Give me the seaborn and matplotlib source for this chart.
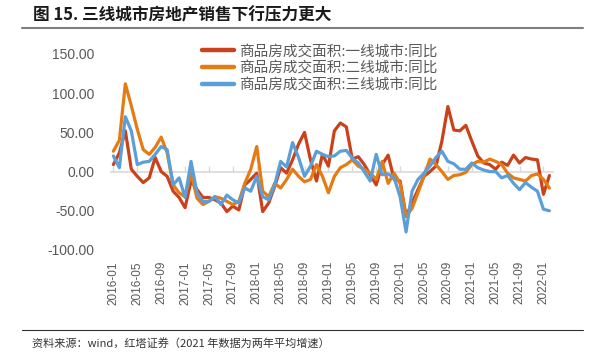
import numpy as np
import pandas as pd
import matplotlib
matplotlib.use("Agg")
import matplotlib.pyplot as plt
from matplotlib.lines import Line2D
import seaborn as sns

# monthly series, 2016-01 .. 2022-02 (year-on-year, %)
months = list(pd.date_range("2016-01", periods=74, freq="MS").strftime("%Y-%m"))

tier1 = [9, 24, 52, 3, -6, -14, -8, 18, 0, -6, -25, -33, -46, -12, -23, -33,
         -33, -36, -40, -51, -44, -49, -17, -10, -2, -51, -40, -19, 5, -2, 15, 35,
         50, 15, -12, 22, 7, 52, 62, 57, 16, 19, 9, -4, -17, 9, 21, -10,
         -12, -57, -40, -23, -6, 0, 7, 39, 83, 53, 52, 59, 39, 20, 11, 9,
         3, 12, 8, 21, 11, 18, 16, 15, -29, -5]
tier2 = [26, 40, 112, 84, 54, 28, 22, 31, 44, 24, -17, -27, -32, -2, -34, -42,
         -38, -32, -34, -38, -42, -38, -15, 3, 32, -25, -32, -15, -21, -10, 3, -6,
         -13, -10, 9, -6, -27, -6, 5, 9, 15, 7, 3, -2, -10, 13, -15, -2,
         -15, -57, -47, -27, -6, 16, 9, 0, -10, -5, -4, -1, 9, 13, 12, 16,
         13, 9, -2, -8, -10, -12, -5, -3, -10, -21]
tier3 = [20, 5, 70, 52, 9, 12, 13, 22, 32, 28, -17, -8, -33, 13, -27, -38,
         -38, -32, -42, -30, -36, -40, -21, -25, -6, -32, -36, -17, 13, 6, 37, 18,
         -6, 7, 26, 22, 19, 20, 26, 27, 17, 11, 0, -12, 22, -4, -3, -8,
         -32, -77, -25, -10, -2, 7, 18, 26, 13, 10, 3, 3, 11, 5, 2, 0,
         0, -8, -5, -15, -23, -14, -20, -25, -48, -50]

series_names = ["商品房成交面积:一线城市:同比",
                "商品房成交面积:二线城市:同比",
                "商品房成交面积:三线城市:同比"]
colors = ["#C9421C", "#E57B13", "#5B9FD8"]

tick_idx = list(range(0, 73, 4))
tick_labels = [months[i] for i in tick_idx]
y_ticks = [150, 100, 50, 0, -50, -100]

df = pd.concat([
    pd.DataFrame({"idx": range(len(months)), "value": vals, "series": name})
    for name, vals in zip(series_names, [tier1, tier2, tier3])
])

sns.set_theme(style="white")
plt.rcParams["font.family"] = ["Liberation Sans", "Noto Sans CJK SC", "DejaVu Sans"]
cjk = ["Noto Sans CJK SC", "DejaVu Sans"]
grey = "#595959"

fig = plt.figure(figsize=(5.92, 3.53), dpi=100)
ax = fig.add_axes([111 / 592, 1 - 250 / 353, (553 - 111) / 592, (250 - 54) / 353])

sns.lineplot(data=df, x="idx", y="value", hue="series", palette=colors,
             linewidth=2.3, ax=ax, legend=False)

ax.set_xlim(-0.4, 73.6)
ax.set_ylim(-100, 150)
for s in ax.spines.values():
    s.set_visible(False)
ax.set_xlabel("")
ax.set_ylabel("")
ax.set_yticks(y_ticks, [f"{v:.2f}" for v in y_ticks])
ax.tick_params(axis="y", length=0, pad=12, labelsize=10, labelcolor=grey)
ax.set_xticks(tick_idx, tick_labels, rotation=90)
ax.tick_params(axis="x", length=0, pad=8, labelsize=8.5, labelcolor=grey)

# zero line with inward ticks
sec = ax.secondary_xaxis(0.4)
sec.set_xticks(tick_idx, [""] * len(tick_idx))
sec.tick_params(direction="in", length=4, width=1, color="#d9d9d9")
sec.spines["bottom"].set_color("#d9d9d9")
sec.spines["bottom"].set_linewidth(1.2)

handles = [Line2D([], [], color=c, linewidth=3.2) for c in colors]
ax.legend(handles, series_names, loc="upper left", bbox_to_anchor=(0.205, 1.05),
          frameon=False, prop={"family": cjk, "size": 10.5}, labelcolor=grey,
          handlelength=2.2, handletextpad=0.4, labelspacing=0.2,
          borderpad=0, borderaxespad=0)

fig.text(33 / 592, 1 - 15 / 353, "图 15. 三线城市房地产销售下行压力更大",
         family=cjk, fontsize=12, fontweight="bold", color="#1a1a1a", va="center")
fig.add_artist(Line2D([22 / 592, 583 / 592], [1 - 28 / 353] * 2,
                      color="#7f7f7f", linewidth=1.5))
fig.add_artist(Line2D([22 / 592, 583 / 592], [1 - 330 / 353] * 2,
                      color="#333333", linewidth=0.8))
fig.text(32 / 592, 1 - 343 / 353, "资料来源：wind，红塔证券（2021 年数据为两年平均增速）",
         family=cjk, fontsize=8, color="#333333", va="center")

fig.savefig("out.png", dpi=100)
